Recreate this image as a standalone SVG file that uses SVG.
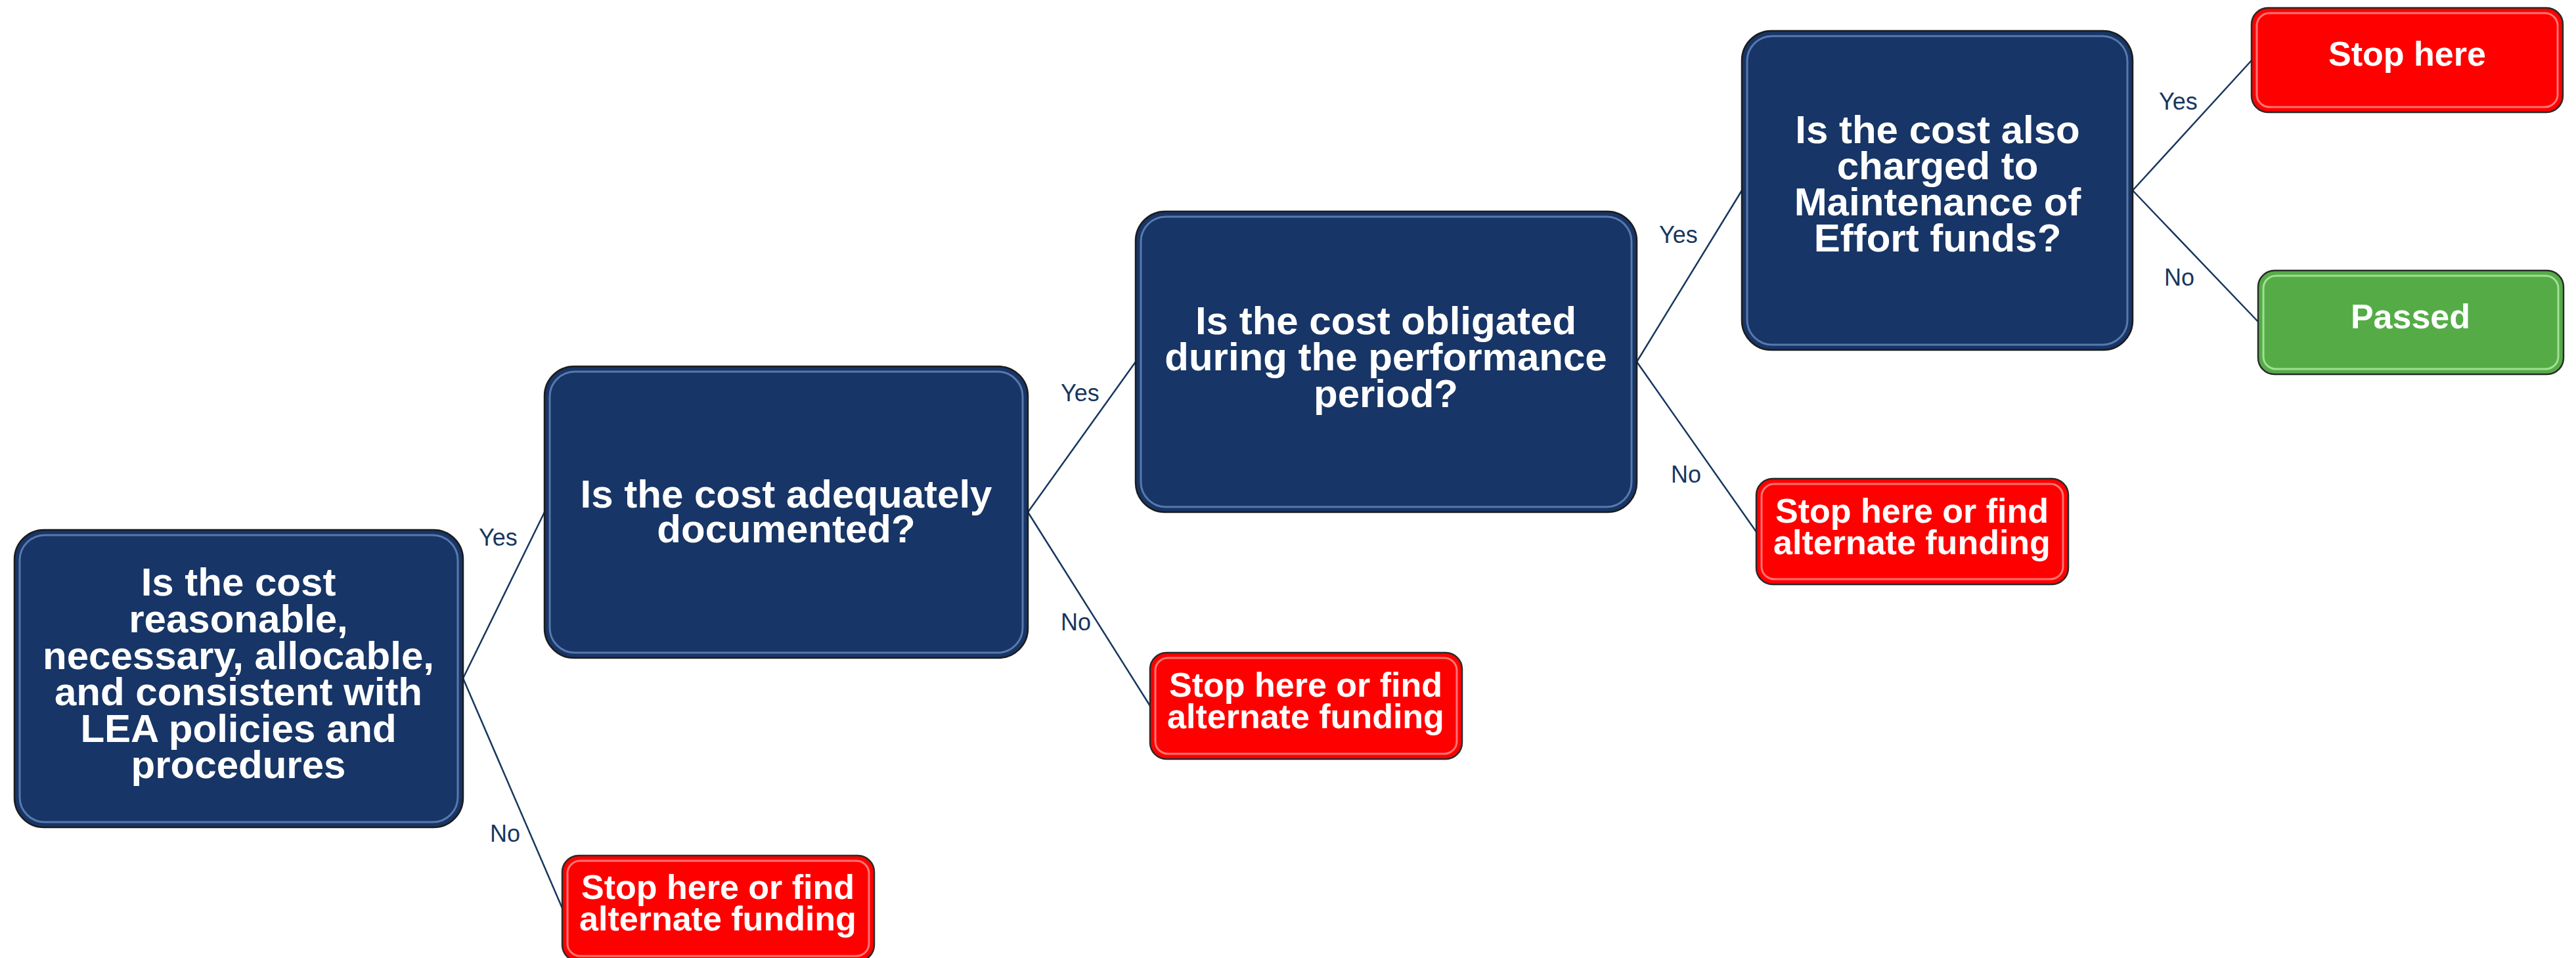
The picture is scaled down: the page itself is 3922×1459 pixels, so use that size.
<svg xmlns="http://www.w3.org/2000/svg" width="3922" height="1459" viewBox="0 0 3922 1459">
<style>
.q{fill:#173566;stroke:#1c1c1c;stroke-width:2.5}
.qh{fill:none;stroke:#86a6dc;stroke-width:3;stroke-opacity:0.6}
.r{fill:#ff0000;stroke:#2a2a2a;stroke-width:2.5}
.rh{fill:none;stroke:#ff9c9c;stroke-width:3;stroke-opacity:0.75}
.g{fill:#55ac47;stroke:#2a2a2a;stroke-width:2.5}
.gh{fill:none;stroke:#b4eca6;stroke-width:3;stroke-opacity:0.8}
.qt{font-family:"Liberation Sans",Arial,sans-serif;font-weight:bold;font-size:60px;fill:#ffffff;text-anchor:middle}
.st{font-family:"Liberation Sans",Arial,sans-serif;font-weight:bold;font-size:52px;fill:#ffffff;text-anchor:middle}
.lb{font-family:"Liberation Sans",Arial,sans-serif;font-size:36px;fill:#17375e}
.c{stroke:#17375e;stroke-width:2.5;fill:none}
</style>
<rect width="3922" height="1459" fill="#ffffff"/>

<g id="connectors">
<line class="c" x1="705" y1="1033" x2="829" y2="780"/>
<line class="c" x1="705" y1="1033" x2="856" y2="1383"/>
<line class="c" x1="1565" y1="780" x2="1729" y2="551"/>
<line class="c" x1="1565" y1="780" x2="1751" y2="1075"/>
<line class="c" x1="2492" y1="551" x2="2652" y2="290"/>
<line class="c" x1="2492" y1="551" x2="2674" y2="810"/>
<line class="c" x1="3247" y1="290" x2="3428" y2="92"/>
<line class="c" x1="3247" y1="290" x2="3438" y2="490"/>
</g>

<g id="labels">
<text class="lb" x="729" y="831">Yes</text>
<text class="lb" x="746" y="1282">No</text>
<text class="lb" x="1615" y="611">Yes</text>
<text class="lb" x="1615" y="960">No</text>
<text class="lb" x="2526" y="370">Yes</text>
<text class="lb" x="2544" y="735">No</text>
<text class="lb" x="3287" y="167">Yes</text>
<text class="lb" x="3295" y="435">No</text>
</g>

<g id="q1">
<rect class="q" x="22" y="807" width="683" height="453" rx="45" ry="45"/>
<rect class="qh" x="30" y="815" width="667" height="437" rx="38" ry="38"/>
<text class="qt"><tspan x="363" y="907">Is the cost</tspan><tspan x="363" y="963">reasonable,</tspan><tspan x="363" y="1019">necessary, allocable,</tspan><tspan x="363" y="1074">and consistent with</tspan><tspan x="363" y="1130">LEA policies and</tspan><tspan x="363" y="1185">procedures</tspan></text>
</g>

<g id="q2">
<rect class="q" x="829" y="558" width="736" height="444" rx="45" ry="45"/>
<rect class="qh" x="837" y="566" width="720" height="428" rx="38" ry="38"/>
<text class="qt"><tspan x="1197" y="773">Is the cost adequately</tspan><tspan x="1197" y="826">documented?</tspan></text>
</g>

<g id="q3">
<rect class="q" x="1729" y="322" width="763" height="458" rx="45" ry="45"/>
<rect class="qh" x="1737" y="330" width="747" height="442" rx="38" ry="38"/>
<text class="qt"><tspan x="2110" y="509">Is the cost obligated</tspan><tspan x="2110" y="564">during the performance</tspan><tspan x="2110" y="620">period?</tspan></text>
</g>

<g id="q4">
<rect class="q" x="2652" y="47" width="595" height="486" rx="45" ry="45"/>
<rect class="qh" x="2660" y="55" width="579" height="470" rx="38" ry="38"/>
<text class="qt"><tspan x="2950" y="218">Is the cost also</tspan><tspan x="2950" y="273">charged to</tspan><tspan x="2950" y="328">Maintenance of</tspan><tspan x="2950" y="383">Effort funds?</tspan></text>
</g>

<g id="stop1">
<rect class="r" x="856" y="1303" width="475" height="161" rx="25" ry="25"/>
<rect class="rh" x="864" y="1311" width="459" height="145" rx="19" ry="19"/>
<text class="st"><tspan x="1093" y="1369">Stop here or find</tspan><tspan x="1093" y="1417">alternate funding</tspan></text>
</g>

<g id="stop2">
<rect class="r" x="1751" y="994" width="475" height="162" rx="25" ry="25"/>
<rect class="rh" x="1759" y="1002" width="459" height="146" rx="19" ry="19"/>
<text class="st"><tspan x="1988" y="1061">Stop here or find</tspan><tspan x="1988" y="1109">alternate funding</tspan></text>
</g>

<g id="stop3">
<rect class="r" x="2674" y="729" width="475" height="161" rx="25" ry="25"/>
<rect class="rh" x="2682" y="737" width="459" height="145" rx="19" ry="19"/>
<text class="st"><tspan x="2911" y="796">Stop here or find</tspan><tspan x="2911" y="844">alternate funding</tspan></text>
</g>

<g id="stophere">
<rect class="r" x="3428" y="12" width="474" height="159" rx="25" ry="25"/>
<rect class="rh" x="3436" y="20" width="458" height="143" rx="19" ry="19"/>
<text class="st" x="3665" y="100">Stop here</text>
</g>

<g id="passed">
<rect class="g" x="3438" y="412" width="465" height="158" rx="25" ry="25"/>
<rect class="gh" x="3446" y="420" width="449" height="142" rx="19" ry="19"/>
<text class="st" x="3670" y="500">Passed</text>
</g>
</svg>
